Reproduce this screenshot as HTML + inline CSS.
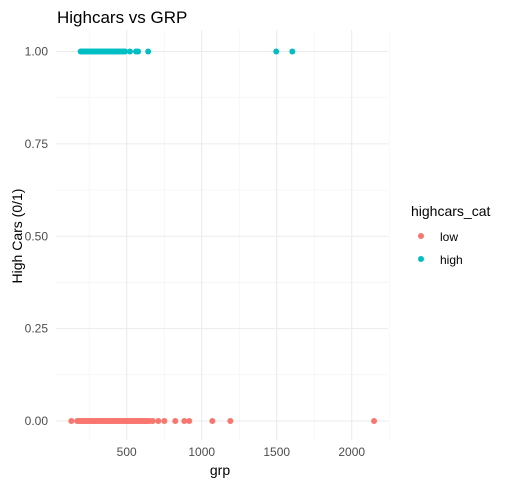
<!DOCTYPE html>
<html><head><meta charset="utf-8"><style>
body{margin:0;background:#fff;}
svg{display:block;font-family:"Liberation Sans",sans-serif;}
</style></head><body>
<svg id="chart" width="510" height="484">
<text x="57" y="23" font-size="17" fill="#000">Highcars vs GRP</text>
<g id="grid"></g>
<g id="pts"></g>
<g id="axes"></g>
<text x="220" y="475" font-size="14" fill="#000" text-anchor="middle">grp</text>
<text transform="translate(22,236) rotate(-90)" font-size="14" fill="#000" text-anchor="middle">High Cars (0/1)</text>
<g>
<text x="411" y="216" font-size="14" fill="#000">highcars_cat</text>
<g><circle cx="421" cy="236" r="3" fill="#F8766D"/><text x="440" y="241" font-size="12" fill="#000">low</text></g>
<g><circle cx="421" cy="259" r="3" fill="#00BFC4"/><text x="440" y="264" font-size="12" fill="#000">high</text></g>
</g>
</svg>
<script>
const xTicks=[500,1000,1500,2000];
const yTicks=[0,0.25,0.5,0.75,1];
const yLabels=["0.00","0.25","0.50","0.75","1.00"];
const lowValues=[131,170,180,190,200,210,220,230,240,250,260,270,280,290,300,310,320,330,340,350,360,370,380,390,400,410,420,430,440,450,460,470,480,490,500,510,520,530,540,550,560,570,580,590,600,610,620,630,640,655,673,711,751,824,884,917,1071,1191,2149];
const highValues=[193,200,210,220,230,240,250,260,270,280,290,300,310,320,330,340,350,360,370,380,390,400,410,420,430,440,450,460,470,480,489,522,562,576,643,1497,1604];
const svg=document.getElementById('chart');
const NS='http://www.w3.org/2000/svg';
const L=56,R=388,T=30,B=440;
function xs(v){return 126.7+(v-500)*0.15;}
function ys(v){return 421-v*369.5;}
function el(t,a,p){const e=document.createElementNS(NS,t);for(const k in a)e.setAttribute(k,a[k]);p.appendChild(e);return e;}
const grid=document.getElementById('grid');
// minor x
for(let i=0;i<xTicks.length;i++){const m=xTicks[i]-250;const g=el('line',{x1:xs(m),x2:xs(m),y1:T,y2:B,stroke:'#f2f2f2','stroke-width':0.6},grid);}
const mlast=xTicks[xTicks.length-1]+250;
const gl=el('line',{x1:xs(mlast),x2:xs(mlast),y1:T,y2:B,stroke:'#f2f2f2','stroke-width':0.6},grid);


for(let i=0;i<yTicks.length-1;i++){const m=(yTicks[i]+yTicks[i+1])/2;const g=el('line',{x1:L,x2:R,y1:ys(m),y2:ys(m),stroke:'#f2f2f2','stroke-width':0.6},grid);}
const axes=document.getElementById('axes');
xTicks.forEach(v=>{
 const g=el('line',{x1:xs(v),x2:xs(v),y1:T,y2:B,stroke:'#ebebeb','stroke-width':1.1},grid);
 
 
 const t=el('text',{x:xs(v),y:456,'font-size':12,fill:'#4d4d4d','text-anchor':'middle'},axes);
 t.textContent=v;
 
 
});
yTicks.forEach((v,i)=>{
 const g=el('line',{x1:L,x2:R,y1:ys(v),y2:ys(v),stroke:'#ebebeb','stroke-width':1.1},grid);
 
 
 const t=el('text',{x:48,y:ys(v)+4,'font-size':12,fill:'#4d4d4d','text-anchor':'end'},axes);
 t.textContent=yLabels[i];
 
 
});
const pts=document.getElementById('pts');
lowValues.forEach(v=>{
 const c=el('circle',{cx:xs(v),cy:ys(0),r:3,fill:'#F8766D'},pts);
 
 
});
highValues.forEach(v=>{
 const c=el('circle',{cx:xs(v),cy:ys(1),r:3,fill:'#00BFC4'},pts);
 
 
});
</script>
</body></html>
